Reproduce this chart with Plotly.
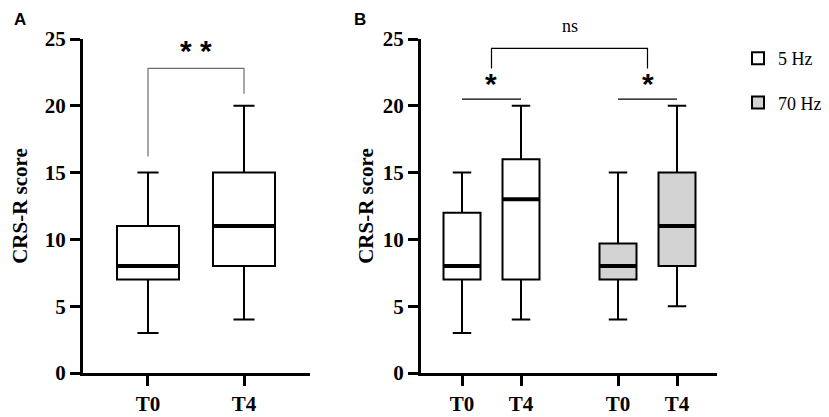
import plotly.graph_objects as go

# ---------------- data ----------------
a_labels = ["T0", "T4"]
a_low = [3, 4]
a_q1 = [7, 8]
a_med = [8, 11]
a_q3 = [11, 15]
a_high = [15, 20]

b_labels = ["T0", "T4", "T0", "T4"]
b5_low = [3, 4]
b5_q1 = [7, 7]
b5_med = [8, 13]
b5_q3 = [12, 16]
b5_high = [15, 20]

b70_low = [4, 5]
b70_q1 = [7, 8]
b70_med = [8, 11]
b70_q3 = [9.7, 15]
b70_high = [15, 20]

# significance annotations (y values)
a_bracket_y = [16.2, 22.8, 22.8, 20.9]
a_star_y = 25.5
b_pair_y = 20.5
b_star_y = 23.05
b_ns_bracket_y = [22.8, 24.3, 24.3, 22.8]
b_ns_y = 26.85

# ---------------- layout helpers ----------------
a_pos = [0, 1]
b5_pos = [0, 1]
b70_pos = [2.644, 3.644]
a_w = 0.646
b_w = 0.627

OFF = 8  # page body margin
W, H = 829 - OFF, 417 - OFF
serif = "Liberation Serif"
sans = "Liberation Sans"


def px(x):
    return (x - OFF) / W


def py(y):
    return 1 - (y - OFF) / H


fig = go.Figure()


def add_box(pos, low, q1, med, q3, high, width, fill, xa, ya, name, showleg, cap):
    fig.add_trace(go.Box(
        x=pos, lowerfence=low, q1=q1, median=med, q3=q3, upperfence=high,
        width=width, fillcolor=fill, line=dict(color="black", width=2),
        whiskerwidth=cap, boxpoints=False, xaxis=xa, yaxis=ya,
        name=name, showlegend=showleg, legendgroup=name, hoverinfo="skip",
    ))
    mx, my = [], []
    for p, m in zip(pos, med):
        mx += [p - width / 2, p + width / 2, None]
        my += [m, m, None]
    fig.add_trace(go.Scatter(x=mx, y=my, mode="lines", line=dict(color="black", width=4),
                             xaxis=xa, yaxis=ya, showlegend=False, hoverinfo="skip"))


add_box(a_pos, a_low, a_q1, a_med, a_q3, a_high, a_w, "white", "x", "y", "A", False, 0.34)
add_box(b5_pos, b5_low, b5_q1, b5_med, b5_q3, b5_high, b_w, "white", "x2", "y2", "5 Hz", True, 0.5)
add_box(b70_pos, b70_low, b70_q1, b70_med, b70_q3, b70_high, b_w, "#d3d3d3", "x2", "y2", "70 Hz", True, 0.5)

# panel A bracket
fig.add_trace(go.Scatter(x=[a_pos[0], a_pos[0], a_pos[1], a_pos[1]], y=a_bracket_y, mode="lines",
                         line=dict(color="#6e6e6e", width=1.2), xaxis="x", yaxis="y",
                         showlegend=False, hoverinfo="skip", cliponaxis=False))

# panel B pair lines
for grp in (b5_pos, b70_pos):
    fig.add_trace(go.Scatter(x=[grp[0], grp[1]], y=[b_pair_y, b_pair_y], mode="lines",
                             line=dict(color="black", width=1.2), xaxis="x2", yaxis="y2",
                             showlegend=False, hoverinfo="skip", cliponaxis=False))
mid5 = (b5_pos[0] + b5_pos[1]) / 2
mid70 = (b70_pos[0] + b70_pos[1]) / 2
fig.add_trace(go.Scatter(x=[mid5, mid5, mid70, mid70], y=b_ns_bracket_y, mode="lines",
                         line=dict(color="black", width=1.2), xaxis="x2", yaxis="y2",
                         showlegend=False, hoverinfo="skip", cliponaxis=False))

star_font = dict(family=sans, size=30, color="black", weight="bold")
annotations = [
    dict(text="<b>A</b>", x=px(12), y=py(8), xref="paper", yref="paper", xanchor="left", yanchor="top",
         showarrow=False, font=dict(family=sans, size=17, color="black")),
    dict(text="<b>B</b>", x=px(352), y=py(8), xref="paper", yref="paper", xanchor="left", yanchor="top",
         showarrow=False, font=dict(family=sans, size=17, color="black")),
    dict(text="* *", x=(a_pos[0] + a_pos[1]) / 2, y=a_star_y / 25, xref="x", yref="y domain",
         showarrow=False, font=star_font),
    dict(text="*", x=mid5, y=b_star_y / 25, xref="x2", yref="y2 domain", showarrow=False, font=star_font),
    dict(text="*", x=mid70, y=b_star_y / 25, xref="x2", yref="y2 domain", showarrow=False, font=star_font),
    dict(text="ns", x=(mid5 + mid70) / 2, y=b_ns_y / 25, xref="x2", yref="y2 domain", showarrow=False,
         font=dict(family=serif, size=18, color="black")),
]

axis_common = dict(showline=True, linewidth=3, linecolor="black", ticks="outside", ticklen=10,
                   tickwidth=3, tickcolor="black", showgrid=False, zeroline=False, automargin=False,
                   tickfont=dict(family=serif, size=21, color="black", weight="bold"))
ydom = [py(373), py(39)]

fig.update_layout(
    width=W, height=H, margin=dict(l=0, r=0, t=0, b=0),
    paper_bgcolor="white", plot_bgcolor="white",
    xaxis=dict(domain=[px(83), px(310)], range=[-0.677, 1.6875], tickvals=a_pos, ticktext=a_labels,
               anchor="y", **axis_common),
    yaxis=dict(domain=ydom, range=[0, 25], tickvals=[0, 5, 10, 15, 20, 25], anchor="x",
               title=dict(text="CRS-R score", font=dict(family=serif, size=21, color="black", weight="bold"),
                          standoff=12), **axis_common),
    xaxis2=dict(domain=[px(421), px(717)], range=[-0.695, 4.322], tickvals=b5_pos + b70_pos,
                ticktext=b_labels, anchor="y2", **axis_common),
    yaxis2=dict(domain=ydom, range=[0, 25], tickvals=[0, 5, 10, 15, 20, 25], anchor="x2",
                title=dict(text="CRS-R score", font=dict(family=serif, size=21, color="black", weight="bold"),
                           standoff=4), **axis_common),
    legend=dict(x=px(738), y=py(40), xanchor="left", yanchor="top",
                font=dict(family=serif, size=18, color="black"), tracegroupgap=18,
                bgcolor="rgba(0,0,0,0)", borderwidth=0),
    annotations=annotations,
    showlegend=True,
)

fig.write_html("out.html")
